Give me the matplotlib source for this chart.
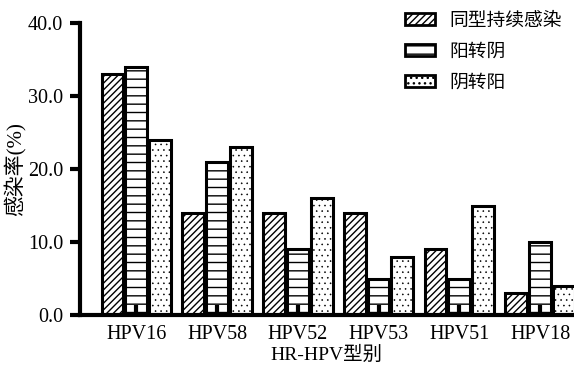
import numpy as np
import matplotlib as mpl
import matplotlib.pyplot as plt
from matplotlib.patches import Patch

plt.rcParams['font.family'] = ['Liberation Serif', 'Noto Sans CJK SC']

types = ['HPV16', 'HPV58', 'HPV52', 'HPV53', 'HPV51', 'HPV18']
persistent = [33, 14, 14, 14, 9, 3]
pos_to_neg = [34, 21, 9, 5, 5, 10]
neg_to_pos = [24, 23, 16, 8, 15, 4]
series_names = ['同型持续感染', '阳转阴', '阴转阳']
yticks = [0, 10, 20, 30, 40]

fig = plt.figure(figsize=(5.74, 3.73), dpi=100)
ax = fig.add_axes([0.139, 0.155, 0.861, 0.783])

x = np.arange(len(types))
w = 0.27
hatches = ['/////', '--', '...']
hatch_lw = [1.0, 1.0, 0.4]
handles = []
for i, vals in enumerate([persistent, pos_to_neg, neg_to_pos]):
    with mpl.rc_context({'hatch.linewidth': hatch_lw[i]}):
        ax.bar(x + (i - 1) * (w + 0.025), vals, width=w, facecolor='white',
               edgecolor='black', linewidth=2.2, hatch=hatches[i], zorder=1)
        handles.append(Patch(facecolor='white', edgecolor='black',
                             linewidth=2, hatch=hatches[i]))

ax.set_xlim(-0.70, 5.42)
ax.set_ylim(0, 40)
ax.set_yticks(yticks)
ax.set_yticklabels([f'{v:.1f}' for v in yticks], fontsize=14.5)
ax.set_xticks(x)
ax.set_xticklabels(types, fontsize=14.5)

for side in ['top', 'right']:
    ax.spines[side].set_visible(False)
for side in ['left', 'bottom']:
    ax.spines[side].set_linewidth(3)
ax.tick_params(axis='y', direction='out', length=7, width=3, pad=5)
ax.tick_params(axis='x', direction='in', length=7, width=3, pad=7)
ax.set_axisbelow(False)

ax.set_ylabel('感染率(%)', fontsize=15, labelpad=1)
ax.set_xlabel('HR-HPV型别', fontsize=14, labelpad=1)

ax.legend(handles, series_names, loc='upper right', bbox_to_anchor=(1.01, 1.095),
          frameon=False, fontsize=13.5, handlelength=1.6, handleheight=0.6,
          labelspacing=0.75, handletextpad=0.8)

fig.savefig('out.png', dpi=100)
